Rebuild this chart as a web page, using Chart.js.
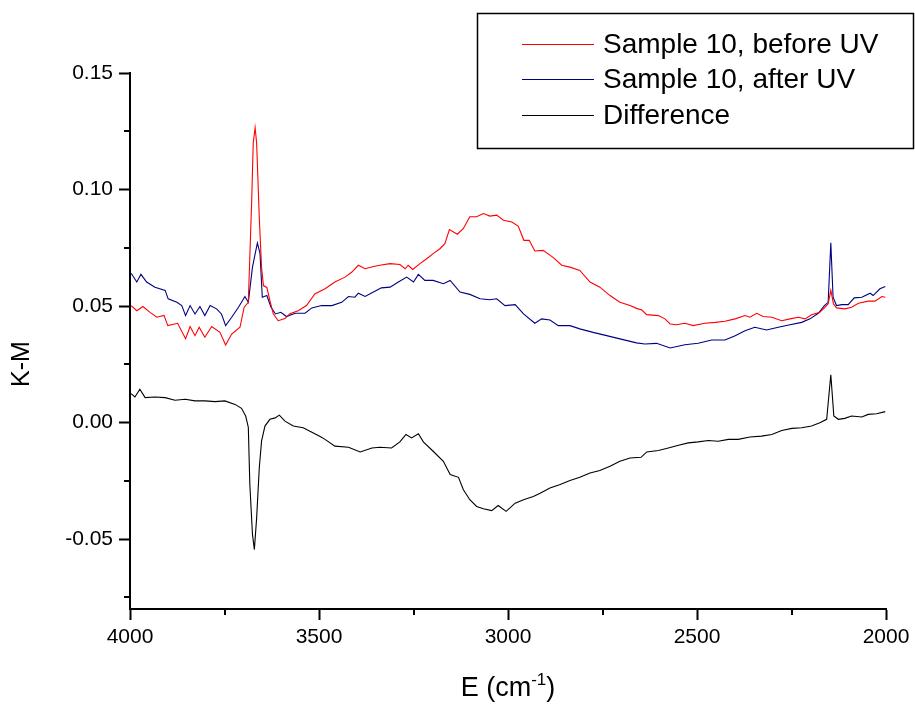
<!DOCTYPE html>
<html>
<head>
<meta charset="utf-8">
<script src="https://cdn.jsdelivr.net/npm/chart.js@4.4.1/dist/chart.umd.min.js"></script>
<style>
  html, body { margin: 0; padding: 0; background: #fff; }
  #wrap { width: 915px; height: 705px; }
</style>
</head>
<body>
<div id="wrap"><canvas id="chart" width="915" height="705"></canvas></div>
<script>
// wavenumber (cm-1) and K-M values
const beforeE = [3997, 3982, 3966, 3947, 3929, 3910, 3900, 3874, 3853, 3841, 3828, 3817, 3802, 3784, 3762, 3747, 3731, 3709, 3698, 3687, 3678, 3674, 3669, 3665, 3658, 3652, 3647, 3638, 3630, 3621, 3608, 3590, 3577, 3555, 3533, 3511, 3484, 3458, 3431, 3413, 3396, 3378, 3356, 3339, 3312, 3286, 3272, 3264, 3252, 3233, 3215, 3198, 3180, 3167, 3155, 3134, 3118, 3101, 3083, 3065, 3048, 3030, 3012, 2990, 2973, 2958, 2944, 2929, 2907, 2880, 2858, 2836, 2810, 2783, 2757, 2730, 2704, 2677, 2660, 2646, 2633, 2602, 2585, 2571, 2554, 2532, 2510, 2479, 2452, 2426, 2399, 2373, 2360, 2342, 2325, 2302, 2276, 2254, 2232, 2214, 2197, 2175, 2161, 2153, 2146, 2139, 2131, 2109, 2091, 2073, 2047, 2029, 2011, 2002];
const beforeKM = [0.0502, 0.0480, 0.0498, 0.0473, 0.0452, 0.0460, 0.0416, 0.0426, 0.0360, 0.0412, 0.0373, 0.0409, 0.0366, 0.0412, 0.0387, 0.0333, 0.0380, 0.0409, 0.0495, 0.0516, 0.0955, 0.1200, 0.1265, 0.1200, 0.0880, 0.0667, 0.0588, 0.0580, 0.0524, 0.0467, 0.0437, 0.0446, 0.0467, 0.0480, 0.0502, 0.0552, 0.0574, 0.0603, 0.0624, 0.0646, 0.0675, 0.0660, 0.0670, 0.0675, 0.0682, 0.0678, 0.0660, 0.0675, 0.0657, 0.0682, 0.0703, 0.0725, 0.0746, 0.0768, 0.0828, 0.0808, 0.0833, 0.0883, 0.0883, 0.0897, 0.0886, 0.0890, 0.0868, 0.0861, 0.0843, 0.0782, 0.0782, 0.0736, 0.0739, 0.0708, 0.0675, 0.0667, 0.0653, 0.0603, 0.0581, 0.0545, 0.0516, 0.0502, 0.0490, 0.0483, 0.0463, 0.0459, 0.0445, 0.0423, 0.0420, 0.0426, 0.0416, 0.0426, 0.0430, 0.0435, 0.0445, 0.0459, 0.0452, 0.0469, 0.0455, 0.0452, 0.0437, 0.0445, 0.0452, 0.0445, 0.0463, 0.0473, 0.0495, 0.0510, 0.0567, 0.0510, 0.0492, 0.0488, 0.0495, 0.0512, 0.0521, 0.0521, 0.0541, 0.0538];

const afterE = [3997, 3982, 3971, 3956, 3934, 3907, 3899, 3876, 3863, 3853, 3841, 3828, 3815, 3802, 3788, 3771, 3758, 3747, 3731, 3713, 3696, 3687, 3676, 3663, 3656, 3650, 3638, 3627, 3615, 3601, 3586, 3563, 3537, 3519, 3493, 3466, 3440, 3422, 3405, 3396, 3378, 3356, 3335, 3312, 3290, 3268, 3250, 3237, 3220, 3198, 3171, 3153, 3127, 3101, 3074, 3048, 3030, 3008, 2981, 2959, 2929, 2911, 2889, 2867, 2836, 2810, 2775, 2739, 2704, 2660, 2638, 2607, 2571, 2532, 2497, 2461, 2426, 2399, 2373, 2347, 2316, 2285, 2254, 2223, 2201, 2179, 2163, 2153, 2146, 2140, 2131, 2117, 2100, 2084, 2064, 2042, 2034, 2016, 2002];
const afterKM = [0.0641, 0.0603, 0.0636, 0.0603, 0.0581, 0.0567, 0.0531, 0.0516, 0.0502, 0.0459, 0.0502, 0.0466, 0.0498, 0.0459, 0.0502, 0.0488, 0.0466, 0.0416, 0.0452, 0.0495, 0.0541, 0.0516, 0.0667, 0.0771, 0.0725, 0.0538, 0.0545, 0.0495, 0.0466, 0.0473, 0.0455, 0.0469, 0.0469, 0.0492, 0.0502, 0.0502, 0.0516, 0.0541, 0.0538, 0.0555, 0.0541, 0.0560, 0.0578, 0.0581, 0.0603, 0.0624, 0.0603, 0.0636, 0.0610, 0.0610, 0.0596, 0.0610, 0.0560, 0.0550, 0.0531, 0.0527, 0.0531, 0.0502, 0.0506, 0.0466, 0.0426, 0.0445, 0.0440, 0.0416, 0.0416, 0.0402, 0.0387, 0.0373, 0.0359, 0.0342, 0.0337, 0.0340, 0.0320, 0.0334, 0.0340, 0.0354, 0.0354, 0.0373, 0.0394, 0.0409, 0.0397, 0.0409, 0.0420, 0.0430, 0.0445, 0.0469, 0.0502, 0.0516, 0.0771, 0.0538, 0.0502, 0.0506, 0.0506, 0.0535, 0.0538, 0.0555, 0.0545, 0.0574, 0.0584];

const diffE = [3997, 3987, 3974, 3960, 3934, 3907, 3881, 3854, 3828, 3802, 3775, 3749, 3722, 3705, 3694, 3687, 3683, 3676, 3671, 3665, 3658, 3652, 3643, 3630, 3616, 3605, 3590, 3568, 3542, 3524, 3497, 3484, 3458, 3422, 3391, 3360, 3339, 3308, 3286, 3270, 3255, 3237, 3224, 3198, 3171, 3153, 3131, 3118, 3101, 3083, 3065, 3043, 3026, 3005, 2981, 2959, 2933, 2915, 2889, 2862, 2836, 2810, 2783, 2757, 2730, 2704, 2677, 2648, 2633, 2602, 2576, 2549, 2523, 2497, 2470, 2444, 2417, 2391, 2360, 2329, 2302, 2276, 2249, 2223, 2197, 2175, 2157, 2146, 2138, 2126, 2109, 2091, 2064, 2047, 2025, 2002];
const diffKM = [0.0124, 0.0110, 0.0143, 0.0107, 0.0110, 0.0107, 0.0096, 0.0100, 0.0093, 0.0093, 0.0090, 0.0093, 0.0078, 0.0061, 0.0028, -0.0020, -0.0265, -0.0480, -0.0545, -0.0410, -0.0195, -0.0080, -0.0015, 0.0014, 0.0020, 0.0032, 0.0006, -0.0015, -0.0022, -0.0037, -0.0060, -0.0072, -0.0101, -0.0106, -0.0126, -0.0109, -0.0106, -0.0109, -0.0083, -0.0051, -0.0066, -0.0048, -0.0083, -0.0123, -0.0166, -0.0223, -0.0235, -0.0288, -0.0331, -0.0360, -0.0370, -0.0378, -0.0356, -0.0381, -0.0346, -0.0331, -0.0317, -0.0303, -0.0281, -0.0266, -0.0249, -0.0235, -0.0216, -0.0206, -0.0187, -0.0166, -0.0152, -0.0149, -0.0126, -0.0120, -0.0109, -0.0097, -0.0087, -0.0083, -0.0077, -0.0080, -0.0072, -0.0072, -0.0062, -0.0058, -0.0051, -0.0034, -0.0025, -0.0022, -0.0015, -0.0001, 0.0014, 0.0205, 0.0028, 0.0014, 0.0018, 0.0028, 0.0024, 0.0035, 0.0038, 0.0047];

const seriesLabels = ["Sample 10, before UV", "Sample 10, after UV", "Difference"];
const seriesColors = ["#ff0000", "#000080", "#000000"];

const xTicks = [4000, 3500, 3000, 2500, 2000];
const xMinor = [3750, 3250, 2750, 2250];
const yTicks = [-0.05, 0.00, 0.05, 0.10, 0.15];
const yMinor = [-0.075, -0.025, 0.025, 0.075, 0.125];

const FONT = "'Liberation Sans', Arial, sans-serif";

const toPoints = (xs, ys) => xs.map((x, i) => ({ x: x, y: ys[i] }));

// minor ticks, axis titles and the boxed legend
const decorPlugin = {
  id: "decor",
  afterDraw(chart) {
    const ctx = chart.ctx;
    const sx = chart.scales.x;
    const sy = chart.scales.y;
    const area = chart.chartArea;
    ctx.save();
    ctx.strokeStyle = "#000";
    ctx.lineWidth = 2;
    ctx.beginPath();
    xMinor.forEach((v) => {
      const p = Math.round(sx.getPixelForValue(v));
      ctx.moveTo(p, area.bottom);
      ctx.lineTo(p, area.bottom + 6);
    });
    yMinor.forEach((v) => {
      const p = Math.round(sy.getPixelForValue(v));
      ctx.moveTo(area.left, p);
      ctx.lineTo(area.left - 6, p);
    });
    ctx.stroke();

    ctx.fillStyle = "#000";
    // y title
    ctx.save();
    ctx.translate(22, 364);
    ctx.rotate(-Math.PI / 2);
    ctx.font = "25px " + FONT;
    ctx.textAlign = "center";
    ctx.textBaseline = "middle";
    ctx.fillText("K-M", 0, 0);
    ctx.restore();

    // x title with superscript
    const main = "27px " + FONT;
    const sup = "17px " + FONT;
    ctx.textBaseline = "alphabetic";
    ctx.textAlign = "left";
    ctx.font = main;
    const w1 = ctx.measureText("E (cm").width;
    const w3 = ctx.measureText(")").width;
    ctx.font = sup;
    const w2 = ctx.measureText("-1").width;
    let x0 = (area.left + area.right) / 2 - (w1 + w2 + w3) / 2;
    const base = 696;
    ctx.font = main;
    ctx.fillText("E (cm", x0, base);
    ctx.font = sup;
    ctx.fillText("-1", x0 + w1, base - 11);
    ctx.font = main;
    ctx.fillText(")", x0 + w1 + w2, base);

    // legend box
    ctx.lineWidth = 1.5;
    ctx.strokeRect(477.5, 13.5, 436, 135);
    ctx.font = "28px " + FONT;
    ctx.textBaseline = "middle";
    const rows = [44, 79, 115];
    chart.data.datasets.forEach((ds, i) => {
      ctx.strokeStyle = ds.borderColor;
      ctx.lineWidth = 1;
      ctx.beginPath();
      ctx.moveTo(522, rows[i] + 0.5);
      ctx.lineTo(594, rows[i] + 0.5);
      ctx.stroke();
      ctx.fillText(ds.label, 603, rows[i] + 1);
    });
    ctx.restore();
  },
};

const axisBase = {
  type: "linear",
  grid: { drawOnChartArea: false, tickLength: 11, tickWidth: 2, tickColor: "#000" },
  border: { color: "#000", width: 2 },
};

new Chart(document.getElementById("chart"), {
  type: "line",
  data: {
    datasets: [
      { label: seriesLabels[0], data: toPoints(beforeE, beforeKM), borderColor: seriesColors[0] },
      { label: seriesLabels[1], data: toPoints(afterE, afterKM), borderColor: seriesColors[1] },
      { label: seriesLabels[2], data: toPoints(diffE, diffKM), borderColor: seriesColors[2] },
    ],
  },
  options: {
    responsive: false,
    animation: false,
    devicePixelRatio: 1,
    layout: { padding: { top: 73, right: 29, left: 0, bottom: 0 } },
    elements: {
      point: { radius: 0 },
      line: { borderWidth: 1.1, tension: 0, fill: false },
    },
    plugins: { legend: { display: false }, tooltip: { enabled: false } },
    scales: {
      x: {
        ...axisBase,
        reverse: true,
        min: 2000,
        max: 4000,
        afterBuildTicks: (s) => { s.ticks = xTicks.map((v) => ({ value: v })); },
        afterFit: (s) => { s.height = 96; },
        ticks: {
          color: "#000",
          font: { family: FONT, size: 21 },
          padding: 5,
          maxRotation: 0,
          autoSkip: false,
          callback: (v) => String(v),
        },
      },
      y: {
        ...axisBase,
        min: -0.08,
        max: 0.15,
        afterBuildTicks: (s) => { s.ticks = yTicks.map((v) => ({ value: v })); },
        afterFit: (s) => { s.width = 130; },
        ticks: {
          color: "#000",
          font: { family: FONT, size: 21 },
          padding: 6,
          autoSkip: false,
          callback: (v) => v.toFixed(2),
        },
      },
    },
  },
  plugins: [decorPlugin],
});
</script>
</body>
</html>
